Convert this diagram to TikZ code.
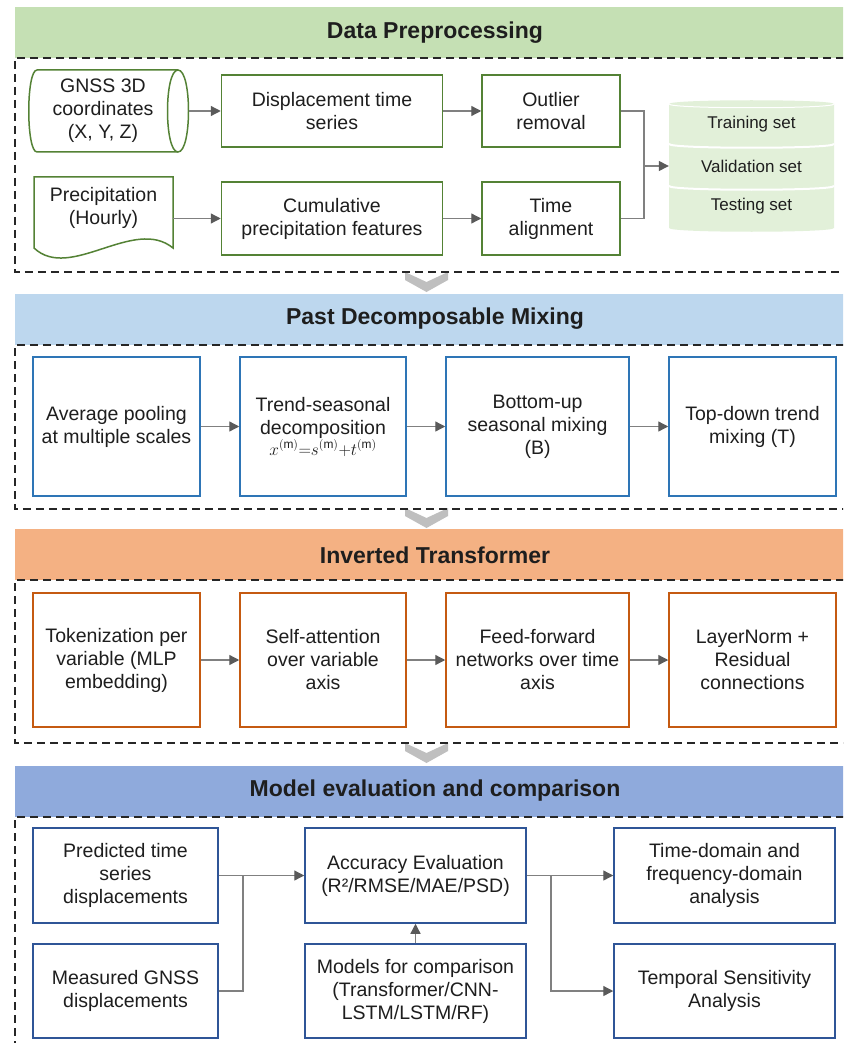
\documentclass[tikz,border=0pt]{standalone}
\usepackage{fontspec}
\setmainfont{Liberation Sans}
\usetikzlibrary{arrows.meta}
\definecolor{gband}{HTML}{C5E0B4}
\definecolor{gline}{HTML}{548235}
\definecolor{gset}{HTML}{E2F0D9}
\definecolor{bband}{HTML}{BDD7EE}
\definecolor{bline}{HTML}{2E75B6}
\definecolor{oband}{HTML}{F4B183}
\definecolor{oline}{HTML}{C55A11}
\definecolor{mband}{HTML}{8FAADC}
\definecolor{mline}{HTML}{2F5597}
\definecolor{chev}{HTML}{BFBFBF}
\definecolor{conncol}{HTML}{808080}
\definecolor{tipcol}{HTML}{5A5A5A}
\definecolor{txt}{HTML}{1E1E1E}
\newcommand\bfnt{\fontsize{19.5}{23}\selectfont}
\newcommand\sfnt{\fontsize{17}{20}\selectfont}
\newcommand\ttlfnt{\fontsize{23}{27}\selectfont\bfseries}
\begin{document}
\begin{tikzpicture}[x=1pt,y=-1pt,
  band/.style={draw=none},
  title/.style={font=\ttlfnt, text=txt},
  dbox/.style={draw=black!85, line width=1.2pt, dash pattern=on 8pt off 5pt},
  boxg/.style={draw=gline, line width=1.5pt, fill=white, align=center, font=\bfnt, text=txt, inner sep=2pt},
  boxb/.style={boxg, draw=bline},
  boxo/.style={boxg, draw=oline},
  boxm/.style={boxg, draw=mline},
  conn/.style={draw=conncol, line width=1.3pt},
  arr/.style={conn, -{Triangle[length=10pt,width=10pt,color=tipcol]}},
  chevron/.style={fill=chev, draw=none},
  plain/.style={align=center, font=\bfnt, text=txt, inner sep=0pt}
]
\clip (0,0) rectangle (843,1043);
\fill[white] (0,0) rectangle (843,1043);

% ---------- chevrons ----------
\foreach \yy in {272,508,743}{
  \fill[chevron] (405,\yy) -- (426.5,\yy+10) -- (448,\yy) -- (448,\yy+8) -- (426.5,\yy+20) -- (405,\yy+8) -- cycle;
}

% ---------- Section 1 ----------
\fill[gband] (15,7) rectangle (870,58);
\node[title] (t1) at (435,33) {Data Preprocessing};
\draw[dbox] (870,58) -- (15,58) -- (15,272) -- (870,272);

% GNSS cylinder
\node[minimum width=161pt, minimum height=82pt, inner sep=0pt] (gnss) at (108.5,111) {};
\draw[gline, line width=1.5pt, fill=white] (37,70) -- (178,70) .. controls (192,70) and (192,152) .. (178,152) -- (37,152) .. controls (26,152) and (26,70) .. (37,70) -- cycle;
\draw[gline, line width=1.5pt] (178,70) .. controls (164,70) and (164,152) .. (178,152);
\node[plain] (gnsstxt) at (103,111) {GNSS 3D\\coordinates\\(X, Y, Z)};

% Precipitation document
\node[minimum width=139pt, minimum height=73pt, inner sep=0pt] (precip) at (103.5,213.5) {};
\draw[gline, line width=1.5pt, fill=white] (34,177) -- (173,177) -- (173,248) .. controls (134,216) and (70,282) .. (34,248) -- cycle;
\node[plain] (preciptxt) at (103.5,208) {Precipitation\\(Hourly)};

\node[boxg, minimum width=221pt, minimum height=72pt] (disp) at (332,111) {Displacement time\\series};
\node[boxg, minimum width=138pt, minimum height=72pt] (outl) at (551,111) {Outlier\\removal};
\node[boxg, minimum width=221pt, minimum height=73pt] (cumul) at (332,218.5) {Cumulative\\precipitation features};
\node[boxg, minimum width=138pt, minimum height=73pt] (talign) at (551,218.5) {Time\\alignment};

% data sets cylinder
\node[minimum width=165pt, minimum height=124pt, inner sep=0pt] (sets) at (751.5,166) {};
\fill[gset] (669,104) -- (669,228) .. controls (669,233) and (834,233) .. (834,228) -- (834,104) .. controls (834,99) and (669,99) .. (669,104) -- cycle;
\draw[white, line width=1pt] (669,104) .. controls (669,109) and (834,109) .. (834,104);
\draw[white, line width=2pt] (669,144) .. controls (669,149) and (834,149) .. (834,144);
\draw[white, line width=2pt] (669,186) .. controls (669,191) and (834,191) .. (834,186);
\node[plain, font=\sfnt] (train) at (751.5,124) {Training set};
\node[plain, font=\sfnt] (valid) at (751.5,166) {Validation set};
\node[plain, font=\sfnt] (test) at (751.5,206) {Testing set};

\coordinate (j1) at (644,166);
\draw[arr] (gnss.east) -- (disp.west);
\draw[arr] (disp.east) -- (outl.west);
\draw[arr] (precip.east |- cumul.west) -- (cumul.west);
\draw[arr] (cumul.east) -- (talign.west);
\draw[conn] (outl.east) -| (j1) |- (talign.east);
\draw[arr] (j1) -- (sets.west);

% ---------- Section 2 ----------
\fill[bband] (15,294) rectangle (870,345);
\node[title] (t2) at (435,319) {Past Decomposable Mixing};
\draw[dbox] (870,345) -- (15,345) -- (15,509) -- (870,509);
\node[boxb, minimum width=167pt, minimum height=139pt] (avg) at (116.5,426.5) {Average pooling\\at multiple scales};
\node[boxb, minimum width=166pt, minimum height=139pt] (tsd) at (323,426.5) {Trend-seasonal\\decomposition\\[-2pt]{\fontsize{17}{19}\selectfont $x^{(\mathrm{m})}{=}s^{(\mathrm{m})}{+}t^{(\mathrm{m})}$}};
\node[boxb, minimum width=183pt, minimum height=139pt] (bum) at (537.5,426.5) {Bottom-up\\seasonal mixing\\(B)};
\node[boxb, minimum width=167pt, minimum height=139pt] (tdm) at (752.5,426.5) {Top-down trend\\mixing (T)};
\draw[arr] (avg.east) -- (tsd.west);
\draw[arr] (tsd.east) -- (bum.west);
\draw[arr] (bum.east) -- (tdm.west);

% ---------- Section 3 ----------
\fill[oband] (15,529) rectangle (870,580);
\node[title] (t3) at (435,555) {Inverted Transformer};
\draw[dbox] (870,580) -- (15,580) -- (15,743) -- (870,743);
\node[boxo, minimum width=167pt, minimum height=134pt] (tok) at (116.5,660) {Tokenization per\\variable (MLP\\embedding)};
\node[boxo, minimum width=166pt, minimum height=134pt] (satt) at (323,660) {Self-attention\\over variable\\axis};
\node[boxo, minimum width=183pt, minimum height=134pt] (ffn) at (537.5,660) {Feed-forward\\networks over time\\axis};
\node[boxo, minimum width=167pt, minimum height=134pt] (lnorm) at (752.5,660) {LayerNorm +\\Residual\\connections};
\draw[arr] (tok.east) -- (satt.west);
\draw[arr] (satt.east) -- (ffn.west);
\draw[arr] (ffn.east) -- (lnorm.west);

% ---------- Section 4 ----------
\fill[mband] (15,766) rectangle (870,817);
\node[title] (t4) at (435,791) {Model evaluation and comparison};
\draw[dbox] (870,817) -- (15,817) -- (15,1060);
\node[boxm, minimum width=185pt, minimum height=95pt] (pred) at (125.5,875.5) {Predicted time\\series\\displacements};
\node[boxm, minimum width=185pt, minimum height=94pt] (meas) at (125.5,991) {Measured GNSS\\displacements};
\node[boxm, minimum width=221pt, minimum height=95pt] (acc) at (415.5,875.5) {Accuracy Evaluation\\(R²/RMSE/MAE/PSD)};
\node[boxm, minimum width=221pt, minimum height=94pt] (models) at (415.5,991) {Models for comparison\\(Transformer/CNN-\\LSTM/LSTM/RF)};
\node[boxm, minimum width=221pt, minimum height=95pt] (tdom) at (724.5,875.5) {Time-domain and\\frequency-domain\\analysis};
\node[boxm, minimum width=221pt, minimum height=94pt] (temp) at (724.5,991) {Temporal Sensitivity\\Analysis};
\coordinate (j2) at (243,875.5);
\coordinate (j3) at (551,875.5);
\draw[arr] (pred.east) -- (acc.west);
\draw[conn] (meas.east) -| (j2);
\draw[arr] (models.north) -- (acc.south);
\draw[arr] (acc.east) -- (tdom.west);
\draw[arr] (j3) |- (temp.west);
\end{tikzpicture}
\end{document}
